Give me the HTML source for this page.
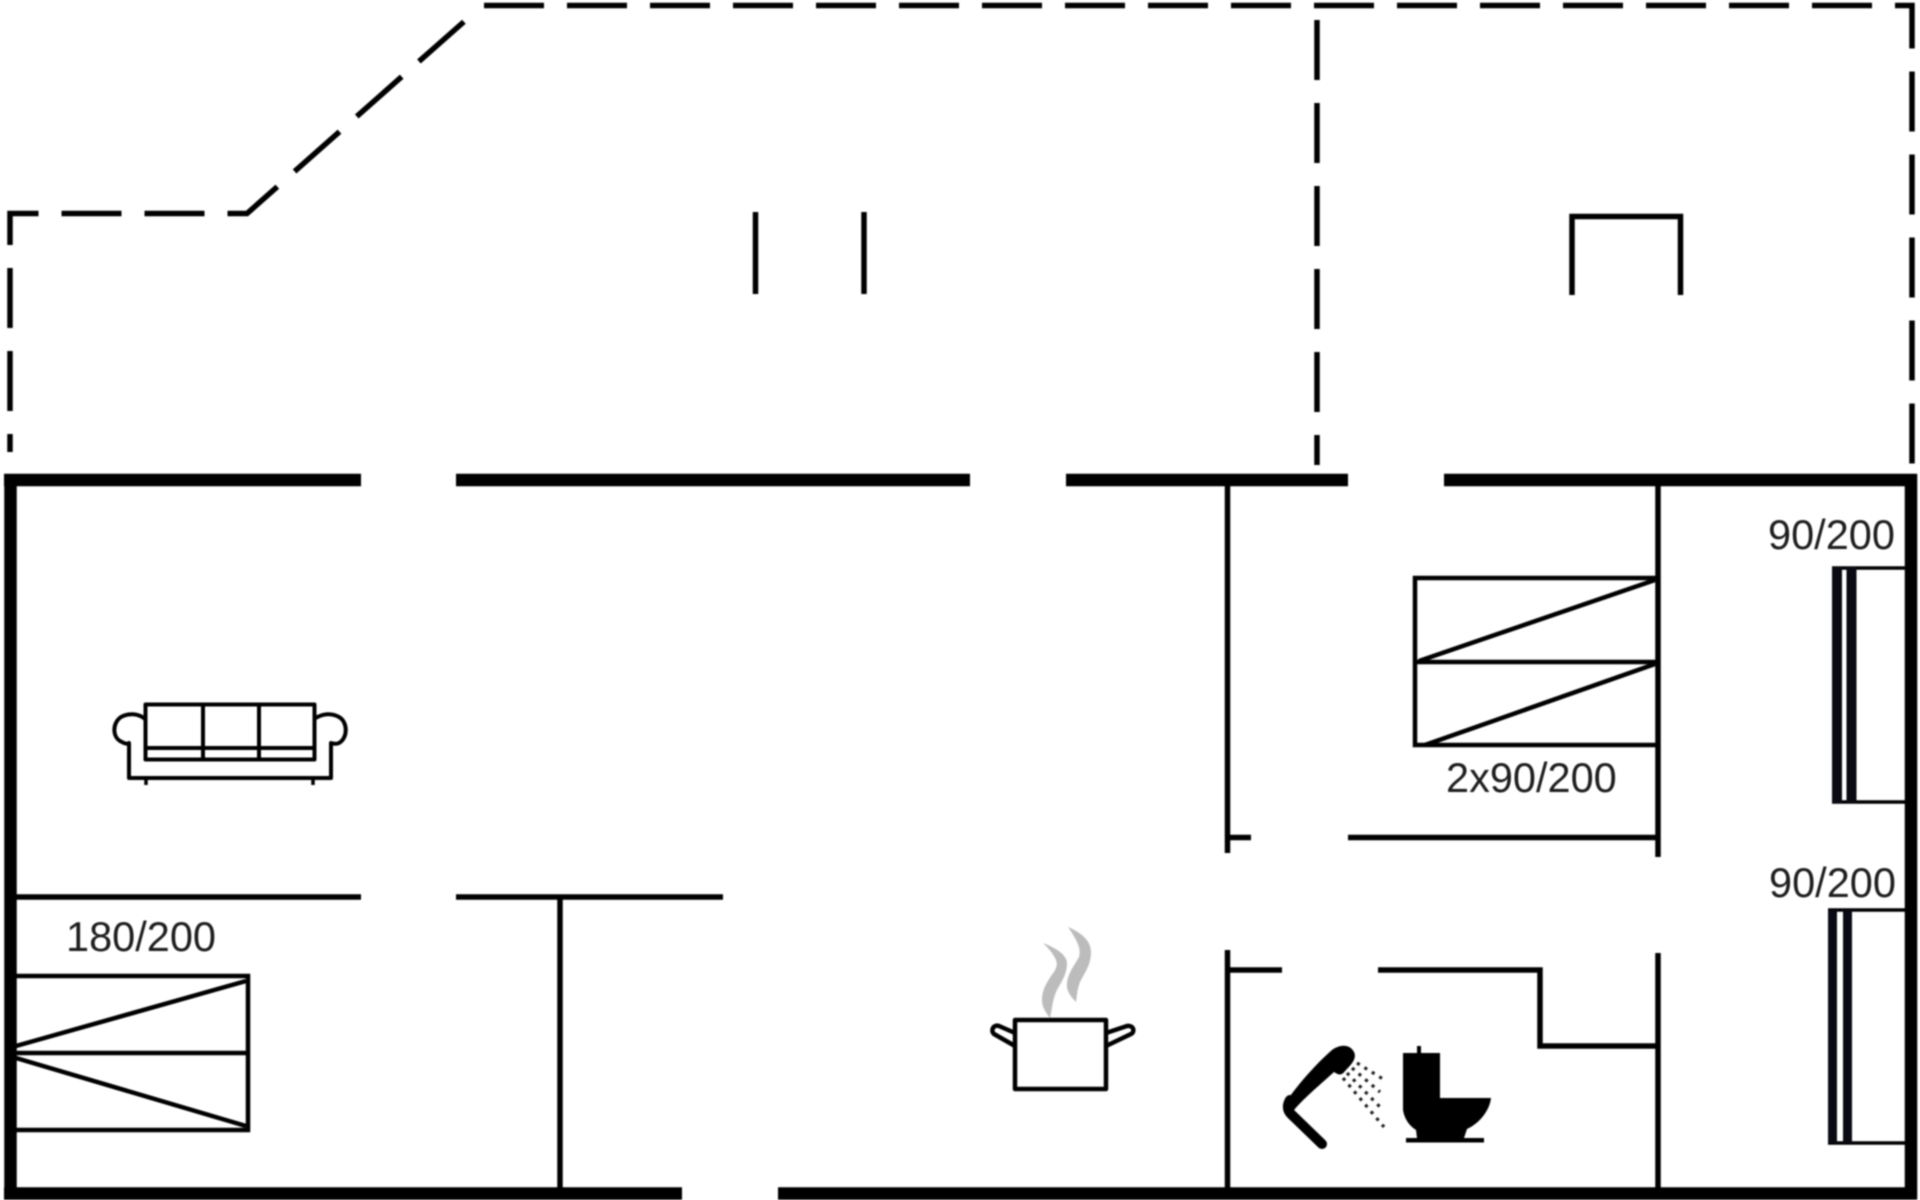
<!DOCTYPE html>
<html>
<head>
<meta charset="utf-8">
<title>Floor plan</title>
<style>
html,body{margin:0;padding:0;background:#fff;width:1920px;height:1200px;overflow:hidden}
svg{display:block;position:absolute;left:0;top:0;filter:blur(0.85px)}
text{font-family:"Liberation Sans",sans-serif;font-size:41.5px;fill:#1e1e1e}
</style>
</head>
<body>
<svg width="1920" height="1200" viewBox="0 0 1920 1200" xmlns="http://www.w3.org/2000/svg">
<rect width="1920" height="1200" fill="#fff"/>
<g fill="none" stroke="#000">
  <!-- dashed outline -->
  <g stroke-width="5.5" stroke-dasharray="60 23">
    <path d="M10 452V213.5H247L467 19" stroke-dashoffset="42"/>
    <path d="M484 5.5H1912V465"/>
    <path d="M1317 20V465"/>
  </g>
  <!-- small upper marks -->
  <g stroke-width="5.5">
    <path d="M755.5 212V294M864 212V294"/>
    <path d="M1572 295V216.5H1680.5V295"/>
  </g>
  <!-- outer walls -->
  <g stroke-width="12.5">
    <path d="M4 480H361M456 480H970M1066 480H1348M1444 480H1917"/>
    <path d="M10.5 474V1199M1911 474V1199"/>
    <path d="M4 1193.5H682M778 1193.5H1917"/>
  </g>
  <!-- interior walls -->
  <g stroke-width="5.5">
    <path d="M16 897H361M456 897H723M560 897V1190"/>
    <path d="M1227.5 484V853M1658 484V857"/>
    <path d="M1228 837.5H1251M1348 837.5H1658"/>
    <path d="M1227.5 950V1190M1658 953V1190"/>
    <path d="M1228 970H1282M1378 970H1540V1046H1658"/>
  </g>
  <!-- wardrobe bed -->
  <g stroke-width="4.5">
    <path d="M1658 578H1415V745H1658M1415 662H1656"/>
    <path d="M1419 661L1655 580M1425 745L1655 664"/>
  </g>
  <!-- left bed -->
  <g stroke-width="4.5">
    <path d="M16 976H248V1130H16M16 1053H248"/>
    <path d="M16 1046L246 981M16 1058L246 1126"/>
  </g>
  <!-- right beds -->
  <g stroke-width="3.5">
    <path d="M1832 568H1906M1832 802H1906"/>
    <path d="M1828 910H1906M1828 1143H1906"/>
  </g>
  <path d="M1837 567V803M1851.5 567V803" stroke-width="10" stroke="#0a0a14"/>
  <path d="M1832.5 910V1143M1847.5 910V1143" stroke-width="9" stroke="#0a0a14"/>
  <!-- sofa -->
  <g stroke-width="4" stroke-linejoin="round">
    <rect x="145.5" y="704.5" width="169" height="55"/>
    <path d="M203 704V759M259 704V759M145 748H314"/>
    <path d="M145 719C138 713 128 713 121 717C112 723 112 738 122 742C125 744 128 744 129 743V778H331V743C334 744 337 744 339 743C348 738 348 722 339 717C332 713 323 713 314 719"/>
    <path d="M146 778V785M313 778V785" stroke-width="3.5"/>
  </g>
  <!-- pot -->
  <g stroke-width="4.5" stroke-linejoin="round">
    <rect x="1015" y="1020" width="91" height="69"/>
    <path d="M1015 1033L999 1026C994 1024 990 1030 994 1034L1015 1046"/>
    <path d="M1106 1033L1127 1026C1134 1025 1135 1032 1131 1034L1106 1046"/>
  </g>
  <!-- shower handle -->
  <path d="M1322 1144L1291 1114C1287 1110 1287 1105 1290 1100" stroke-width="10" stroke-linecap="round" stroke-linejoin="round"/>
  <g stroke-width="3.2" stroke-dasharray="3.2 5.5" stroke="#222">
    <path d="M1357 1063L1383 1079M1352 1068L1380 1092M1347 1073L1380 1107M1343 1078L1384 1127"/>
  </g>
</g>
<!-- shower head -->
<path fill="#000" d="M1286 1102C1298 1084 1318 1062 1332 1050C1340 1044 1350 1044 1354 1052C1357 1058 1352 1064 1346 1070C1342 1075 1340 1076 1334 1072C1322 1083 1304 1098 1294 1110Z"/>
<!-- steam -->
<g fill="#bcbcbc">
  <path d="M1043 943C1056 948 1067 955 1067 963C1067 975 1061 982 1056 992C1052 1002 1052 1010 1050 1018C1045 1012 1042 1006 1042 1000C1042 990 1046 984 1051 976C1056 970 1058 965 1056 960C1053 953 1048 948 1043 943Z"/>
  <path d="M1068 927C1080 932 1091 940 1091 952C1091 965 1085 972 1080 982C1077 990 1077 995 1076 1002C1070 996 1066 990 1067 983C1068 973 1074 966 1079 957C1081 950 1079 943 1068 927Z"/>
</g>
<!-- toilet -->
<g fill="#000">
  <rect x="1417" y="1046" width="4" height="8"/>
  <path d="M1403 1053H1440V1098H1491C1490 1108 1482 1122 1467 1129L1464 1138H1417L1416 1130C1408 1125 1404 1117 1403 1110Z"/>
  <rect x="1406" y="1138" width="78" height="4.5"/>
</g>
<!-- labels -->
<text x="1768" y="549">90/200</text>
<text x="1769" y="897">90/200</text>
<text x="1446" y="792">2x90/200</text>
<text x="66" y="951">180/200</text>
</svg>
</body>
</html>
